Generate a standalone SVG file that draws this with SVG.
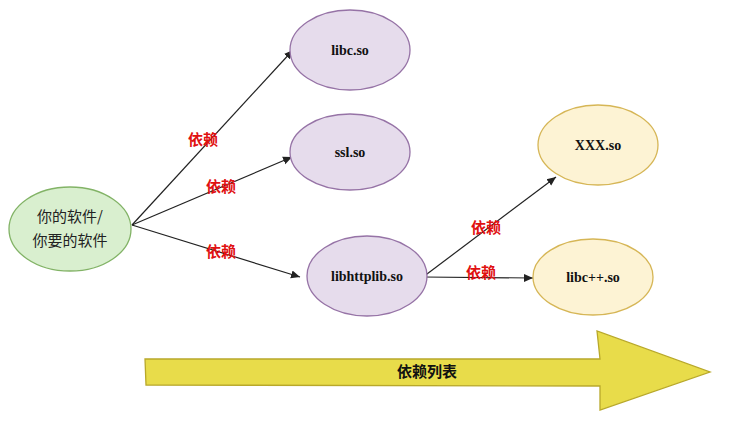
<svg xmlns="http://www.w3.org/2000/svg" width="738" height="425" viewBox="0 0 738 425">
<style>
.p{fill:#e6dcec;stroke:#9673a6;stroke-width:1.3}
.y{fill:#fdf3d4;stroke:#d6b656;stroke-width:1.3}
.g{fill:#d9efcf;stroke:#82b366;stroke-width:1.3}
.t{font-family:"Liberation Serif",serif;font-weight:bold;font-size:14px;fill:#111;text-anchor:middle}
.c{font-family:"Noto Sans CJK SC",sans-serif;font-size:15px;fill:#222;text-anchor:middle}
.l{font-family:"Noto Sans CJK SC",sans-serif;font-weight:bold;font-size:15px;fill:#e01010;text-anchor:middle}
.e{stroke:#222;stroke-width:1.2;fill:none;marker-end:url(#a)}
</style>
<defs><marker id="a" markerWidth="10" markerHeight="10" refX="9" refY="5" orient="auto" markerUnits="userSpaceOnUse"><path d="M0,1 L9,5 L0,9 Z" fill="#222"/></marker></defs>
<g id="edges">
<path class="e" d="M132,225 L293,50"/>
<path class="e" d="M132,225 L292,157"/>
<path class="e" d="M132,225 L300,277"/>
<path class="e" d="M423,277 L556,177"/>
<path class="e" d="M423,277 L533,278"/>
<text class="l" x="203" y="145">依赖</text>
<text class="l" x="221" y="192">依赖</text>
<text class="l" x="221" y="257">依赖</text>
<text class="l" x="486" y="233">依赖</text>
<text class="l" x="481" y="278">依赖</text>
</g>
<g id="soft"><ellipse class="g" cx="70" cy="229" rx="61" ry="42"/><text class="c" x="70" y="222">你的软件/</text><text class="c" x="70" y="246">你要的软件</text></g>
<g id="libc"><ellipse class="p" cx="350" cy="50" rx="60" ry="40"/><text class="t" x="350" y="55">libc.so</text></g>
<g id="ssl"><ellipse class="p" cx="350" cy="152" rx="60" ry="38"/><text class="t" x="350" y="157">ssl.so</text></g>
<g id="httplib"><ellipse class="p" cx="367" cy="276" rx="60" ry="40"/><text class="t" x="367" y="281">libhttplib.so</text></g>
<g id="xxx"><ellipse class="y" cx="598" cy="145" rx="60" ry="40"/><text class="t" x="598" y="150">XXX.so</text></g>
<g id="libcpp"><ellipse class="y" cx="593" cy="277" rx="60" ry="38"/><text class="t" x="593" y="282">libc++.so</text></g>
<g id="bigarrow"><path d="M145,359 L600,359 L597,331 L710,372 L600,410 L600,386 L146,385 Z" fill="#e8dc4a" stroke="#b8a82a" stroke-width="1.3"/>
<text x="427" y="377" font-family="Noto Sans CJK SC,sans-serif" font-weight="bold" font-size="15" fill="#111" text-anchor="middle">依赖列表</text></g>
</svg>
